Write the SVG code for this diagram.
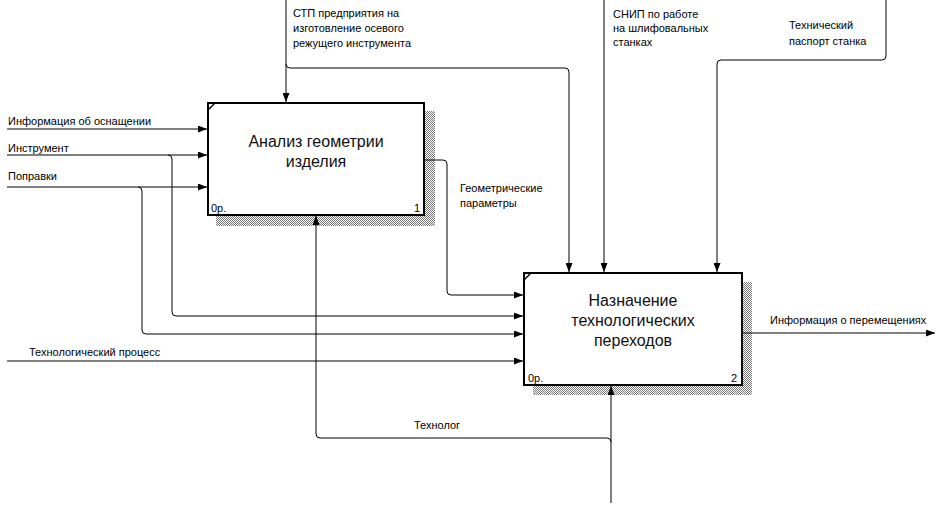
<svg xmlns="http://www.w3.org/2000/svg" width="945" height="516" viewBox="0 0 945 516">
<style>
.lbl{font-family:"Liberation Sans",Arial,sans-serif;font-size:11px;fill:#000}
.title{font-family:"Liberation Sans",Arial,sans-serif;font-size:16px;fill:#111;text-anchor:middle}
.small{font-family:"Liberation Sans",Arial,sans-serif;font-size:11px;fill:#000}
.box{fill:#fff;stroke:#000;stroke-width:2}
.shadow{fill:url(#hatch)}
.conn{fill:none;stroke:#000;stroke-width:1}
</style>
<defs>
<pattern id="hatch" width="2" height="2" patternUnits="userSpaceOnUse">
<rect width="2" height="2" fill="#fff"/>
<rect width="1" height="1" fill="#777"/>
<rect x="1" y="1" width="1" height="1" fill="#777"/>
</pattern>
<marker id="arr" markerWidth="9" markerHeight="7" refX="9" refY="3.5" orient="auto" markerUnits="userSpaceOnUse">
<path d="M0,0 L9,3.5 L0,7 z" fill="#000"/>
</marker>
</defs>
<rect width="945" height="516" fill="#fff"/>

<g id="node1">
<rect class="shadow" x="216" y="111" width="219" height="115"/>
<rect class="box" x="208" y="103" width="216" height="112"/>
<line x1="208" y1="110" x2="215" y2="103" stroke="#000" stroke-width="1.5"/>
<text class="title" x="316" y="147">Анализ геометрии</text>
<text class="title" x="316" y="167">изделия</text>
<text class="small" x="211" y="212">0р.</text>
<text class="small" x="414" y="212">1</text>
</g>

<g id="node2">
<rect class="shadow" x="533" y="282" width="219" height="113"/>
<rect class="box" x="524" y="273" width="218" height="112"/>
<line x1="524" y1="280" x2="531" y2="273" stroke="#000" stroke-width="1.5"/>
<text class="title" x="633" y="306">Назначение</text>
<text class="title" x="633" y="326">технологических</text>
<text class="title" x="633" y="346">переходов</text>
<text class="small" x="528" y="382">0р.</text>
<text class="small" x="731" y="382">2</text>
</g>

<g id="connectors">
<path class="conn" d="M7,129 H207" marker-end="url(#arr)"/>
<path class="conn" d="M7,155 H207" marker-end="url(#arr)"/>
<path class="conn" d="M168,155 Q172,155 172,159 V312 Q172,316 176,316 H523" marker-end="url(#arr)"/>
<path class="conn" d="M7,187 H207" marker-end="url(#arr)"/>
<path class="conn" d="M138,187 Q142,187 142,191 V330 Q142,334 146,334 H523" marker-end="url(#arr)"/>
<path class="conn" d="M7,361 H523" marker-end="url(#arr)"/>
<path class="conn" d="M286,0 V102" marker-end="url(#arr)"/>
<path class="conn" d="M286,64 Q286,68 290,68 H565 Q569,68 569,72 V272" marker-end="url(#arr)"/>
<path class="conn" d="M604,0 V272" marker-end="url(#arr)"/>
<path class="conn" d="M886,0 V56 Q886,60 882,60 H721 Q717,60 717,64 V272" marker-end="url(#arr)"/>
<path class="conn" d="M425,160 H443 Q447,160 447,164 V291 Q447,295 451,295 H523" marker-end="url(#arr)"/>
<path class="conn" d="M743,333 H935" marker-end="url(#arr)"/>
<path class="conn" d="M611,503 V386" marker-end="url(#arr)"/>
<path class="conn" d="M611,442 Q611,438 607,438 H320 Q316,438 316,434 V216" marker-end="url(#arr)"/>
<text class="lbl" x="8" y="125">Информация об оснащении</text>
<text class="lbl" x="8" y="152">Инструмент</text>
<text class="lbl" x="8" y="180">Поправки</text>
<text class="lbl" x="29" y="356">Технологический процесс</text>
<text class="lbl" x="293" y="17">СТП предприятия на</text>
<text class="lbl" x="293" y="32">изготовление осевого</text>
<text class="lbl" x="293" y="47">режущего инструмента</text>
<text class="lbl" x="613" y="18">СНИП по работе</text>
<text class="lbl" x="613" y="32">на шлифовальных</text>
<text class="lbl" x="613" y="46">станках</text>
<text class="lbl" x="789" y="29">Технический</text>
<text class="lbl" x="789" y="45">паспорт станка</text>
<text class="lbl" x="460" y="192">Геометрические</text>
<text class="lbl" x="460" y="207">параметры</text>
<text class="lbl" x="770" y="324">Информация о перемещениях</text>
<text class="lbl" x="414" y="429">Технолог</text>
</g>
</svg>
